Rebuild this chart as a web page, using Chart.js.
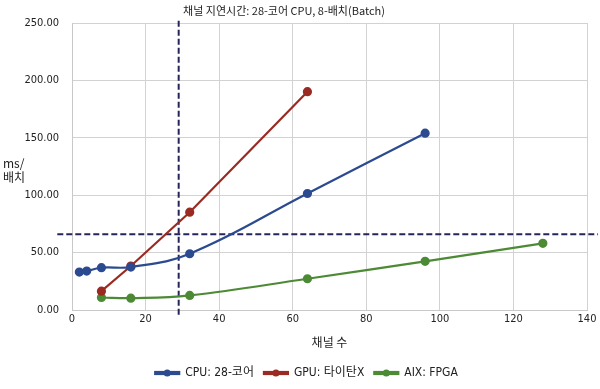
<!DOCTYPE html>
<html>
<head>
<meta charset="utf-8">
<script src="https://cdn.jsdelivr.net/npm/chart.js@4.4.1/dist/chart.umd.min.js"></script>
<style>
	body { margin: 0; background: #fff; }
	#wrap { width: 600px; height: 389px; }
</style>
</head>
<body>
<div id="wrap"><canvas id="mycanvas"></canvas></div>
<script>
// data
var cpuX = [2, 4, 8, 16, 32, 64, 96];
var cpuY = [33, 33.9, 36.9, 37.4, 49, 101.5, 154];
var gpuX = [8, 16, 32, 64];
var gpuY = [16.4, 38.3, 85.2, 190.2];
var fpgaX = [8, 16, 32, 64, 96, 128];
var fpgaY = [10.9, 10.3, 12.7, 27.2, 42.4, 58.1];
var seriesNames = ["CPU: 28-코어", "GPU: 타이탄X", "AIX: FPGA"];
var limitX = 29;   // vertical dashed line
var limitY = 66;   // horizontal dashed line
var yTicks = [0, 50, 100, 150, 200, 250];
var xTicks = [0, 20, 40, 60, 80, 100, 120, 140];

var titleText = "채널 지연시간: 28-코어 CPU, 8-배치(Batch)";
var yTitle = ["ms/", "배치"];
var xTitle = "채널 수";

var FONT = "'DejaVu Sans Condensed', 'Noto Sans CJK KR', sans-serif";
var KFONT = "'Noto Sans CJK KR', sans-serif";

function pts(xs, ys){
	var out = [];
	for(var i in xs){
		out.push({x: xs[i], y: ys[i]});
	}
	return out;
}

var blue = "#2b4a8f";
var red = "#9a2a22";
var green = "#4c8a35";
var navy = "#25255c";

var chartdata = {
	datasets: [
		{
			label: seriesNames[0],
			data: pts(cpuX, cpuY),
			borderColor: blue,
			backgroundColor: blue,
			borderWidth: 2.2,
			pointRadius: 3.5,
			tension: 0.4
		},
		{
			label: seriesNames[1],
			data: pts(gpuX, gpuY),
			borderColor: red,
			backgroundColor: red,
			borderWidth: 2.2,
			pointRadius: 3.5,
			tension: 0
		},
		{
			label: seriesNames[2],
			data: pts(fpgaX, fpgaY),
			borderColor: green,
			backgroundColor: green,
			borderWidth: 2.2,
			pointRadius: 3.5,
			tension: 0.4
		},
		{
			label: "limitX",
			data: [{x: limitX, y: 252}, {x: limitX, y: -6}],
			borderColor: navy,
			borderWidth: 2,
			borderDash: [6, 3],
			pointRadius: 0,
			clip: false
		},
		{
			label: "limitY",
			data: [{x: -4, y: limitY}, {x: 143, y: limitY}],
			borderColor: navy,
			borderWidth: 2,
			borderDash: [6, 3],
			pointRadius: 0,
			clip: false
		}
	]
};

// legend is a bit right of centre in the original
var LEGEND_SHIFT = 13;

// title, y title and legend dots
var extras = {
	id: "extras",
	afterLayout: function(chart){
		var lg = chart.legend;
		lg.left += LEGEND_SHIFT;
		lg.right += LEGEND_SHIFT;
	},
	afterDraw: function(chart){
		var c = chart.ctx;
		c.save();
		c.fillStyle = "#222";
		c.textAlign = "center";
		c.textBaseline = "middle";
		c.font = "11px " + KFONT;
		c.fillText(titleText, 284, 11);
		c.font = "12px " + KFONT;
		c.textAlign = "left";
		c.fillText(yTitle[0], 3, 163);
		c.fillText(yTitle[1], 3, 177);
		var boxes = chart.legend.legendHitBoxes;
		var cols = [blue, red, green];
		for(var i = 0; i < 3 && i < boxes.length; i++){
			var b = boxes[i];
			c.beginPath();
			c.fillStyle = cols[i];
			c.arc(b.left + 12, b.top + b.height / 2, 3.5, 0, Math.PI * 2);
			c.fill();
		}
		c.restore();
	}
};

var ctx = document.getElementById("mycanvas");

var lineGraph = new Chart(ctx, {
	type: "line",
	data: chartdata,
	plugins: [extras],
	options: {
		responsive: true,
		maintainAspectRatio: false,
		animation: false,
		layout: { padding: { top: 23, right: 13, left: 0, bottom: 0 } },
		plugins: {
			legend: {
				position: "bottom",
				labels: {
					boxWidth: 24,
					boxHeight: 2,
					color: "#222",
					font: { family: FONT, size: 12 },
					padding: 10,
					filter: function(item){ return item.datasetIndex < 3; }
				}
			},
			tooltip: { enabled: false }
		},
		scales: {
			x: {
				type: "linear",
				min: 0,
				max: 140,
				afterBuildTicks: function(s){ s.ticks = xTicks.map(function(v){ return {value: v}; }); },
				afterFit: function(s){ s.height = 47; },
				grid: { color: "#d2d2d2", drawTicks: false },
				border: { color: "#c8c8c8" },
				ticks: { color: "#222", padding: 3, font: { family: FONT, size: 11 } },
				title: { display: true, text: xTitle, color: "#222", font: { family: KFONT, size: 12 }, padding: { top: 8, bottom: 7 } }
			},
			y: {
				min: 0,
				max: 250,
				afterBuildTicks: function(s){ s.ticks = yTicks.map(function(v){ return {value: v}; }); },
				afterFit: function(s){ s.width = 72; },
				grid: { color: "#d2d2d2", drawTicks: false },
				border: { color: "#c8c8c8" },
				ticks: {
					color: "#222",
					padding: 13,
					font: { family: FONT, size: 11 },
					callback: function(v){ return v.toFixed(2); }
				}
			}
		}
	}
});
</script>
</body>
</html>
